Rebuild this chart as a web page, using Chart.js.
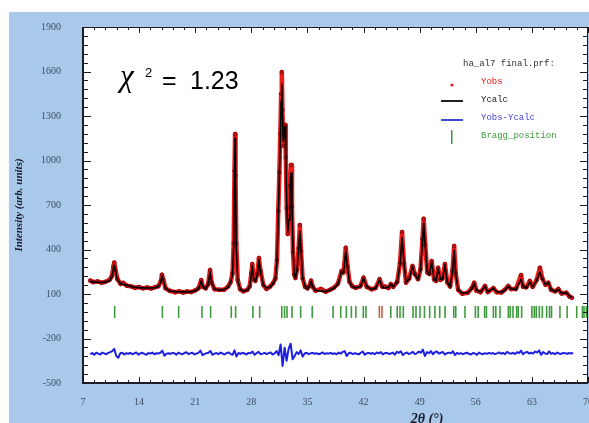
<!DOCTYPE html>
<html>
<head>
<meta charset="utf-8">
<script src="https://cdn.jsdelivr.net/npm/chart.js@4.4.1/dist/chart.umd.min.js"></script>
<style>
html, body { margin: 0; padding: 0; background: #fff; }
canvas { display: block; }
</style>
</head>
<body>
<canvas id="profileChart" width="589" height="423"></canvas>
<script>
// profile (2theta in degrees, counts)
const twoTheta = [
  7.9, 8.3, 8.8, 9.3, 9.8, 10.3, 10.6, 10.8, 10.9, 11.05, 11.3, 11.7, 12.0, 12.5, 13.0, 13.5, 14.0, 14.5, 15.0, 15.5,
  16.0, 16.4, 16.7, 16.85, 17.0, 17.3, 17.8, 18.5, 19.0, 19.5, 20.0, 20.5, 21.0, 21.4, 21.75, 21.95, 22.3, 22.6, 22.85, 23.05,
  23.4, 24.0, 24.6, 25.1, 25.4, 25.65, 25.8, 25.9, 25.97, 26.03, 26.12, 26.3, 26.6, 27.0, 27.5, 27.8, 28.0, 28.12, 28.3, 28.5,
  28.75, 28.95, 29.15, 29.5, 29.9, 30.3, 30.7, 31.0, 31.2, 31.36, 31.5, 31.62, 31.72, 31.8, 31.88, 31.98, 32.08, 32.2, 32.3, 32.42,
  32.55, 32.7, 32.82, 32.95, 33.07, 33.2, 33.35, 33.5, 33.7, 33.9, 34.05, 34.2, 34.4, 34.7, 35.0, 35.25, 35.45, 35.7, 36.0, 36.7,
  37.3, 37.8, 38.3, 38.8, 39.25, 39.5, 39.78, 40.0, 40.25, 40.6, 41.0, 41.6, 42.0, 42.4, 43.0, 43.5, 44.0, 44.35, 44.7, 45.1,
  45.4, 45.7, 46.2, 46.55, 46.8, 47.05, 47.3, 47.7, 48.1, 48.4, 48.8, 49.1, 49.35, 49.5, 49.7, 49.95, 50.2, 50.5, 50.8, 51.05,
  51.3, 51.6, 51.85, 52.15, 52.45, 52.8, 53.1, 53.3, 53.5, 53.8, 54.3, 55.0, 55.5, 55.8, 56.1, 56.6, 57.15, 57.5, 58.2, 58.6,
  59.2, 59.6, 60.05, 60.4, 61.0, 61.65, 61.9, 62.3, 62.75, 63.1, 63.6, 64.0, 64.3, 64.7, 65.05, 65.4, 65.9, 66.3, 66.7, 67.3,
  67.7, 68.0
];
const yCalc = [
  185, 182, 180, 178, 180, 190, 215, 270, 292, 255, 195, 170, 165, 158, 150, 146, 143, 141, 140, 140,
  142, 150, 180, 222, 195, 140, 120, 116, 115, 114, 114, 116, 120, 135, 188, 150, 135, 160, 252, 175,
  135, 125, 130, 145, 175, 230, 420, 880, 1150, 880, 420, 190, 135, 120, 125, 150, 230, 290, 200, 185,
  230, 330, 250, 160, 140, 145, 170, 200, 320, 620, 900, 1150, 1400, 1515, 1320, 1130, 1180, 1230, 1000, 700,
  520, 600, 800, 915, 700, 400, 240, 210, 260, 400, 525, 400, 210, 150, 135, 150, 185, 145, 125, 118,
  118, 125, 140, 165, 250, 240, 390, 280, 180, 150, 140, 150, 205, 150, 130, 140, 195, 145, 140, 145,
  165, 150, 180, 300, 480, 300, 180, 200, 285, 230, 200, 260, 450, 580, 420, 250, 230, 315, 200, 190,
  270, 200, 200, 295, 180, 150, 250, 395, 230, 130, 105, 110, 135, 170, 125, 115, 150, 115, 138, 115,
  112, 125, 150, 135, 130, 200, 150, 140, 180, 150, 190, 250, 200, 165, 175, 130, 115, 130, 105, 108,
  85, 78
];
const yObs = [
  190, 180, 185, 176, 182, 195, 220, 285, 312, 262, 200, 168, 175, 155, 152, 142, 147, 138, 144, 137,
  146, 152, 185, 230, 200, 138, 122, 112, 118, 110, 117, 113, 124, 138, 194, 148, 138, 165, 262, 178,
  132, 128, 128, 150, 178, 240, 440, 930, 1178, 900, 440, 195, 132, 118, 128, 152, 240, 302, 198, 188,
  235, 343, 255, 160, 134, 148, 172, 205, 330, 660, 920, 1180, 1450, 1596, 1340, 1100, 1230, 1240, 1020, 680,
  504, 620, 830, 970, 690, 380, 230, 208, 265, 410, 565, 390, 205, 148, 138, 155, 190, 145, 122, 134,
  115, 128, 142, 170, 255, 245, 412, 285, 182, 152, 142, 152, 210, 148, 132, 140, 200, 148, 150, 140,
  167, 148, 182, 310, 518, 305, 176, 205, 289, 235, 200, 265, 470, 607, 430, 245, 235, 322, 198, 188,
  277, 195, 205, 302, 178, 150, 260, 424, 240, 128, 102, 108, 140, 176, 122, 112, 154, 113, 140, 112,
  110, 128, 154, 133, 133, 228, 148, 145, 188, 148, 195, 277, 205, 162, 176, 128, 118, 134, 103, 109,
  82, 75
];

// Yobs - Ycalc (offset to -300), one value every 0.25 deg from 7.9
const diffStart = 7.9;
const diffStep = 0.25;
const yDiff = [
  -305, -298, -310, -296, -302, -308, -295, -300, -306, -297, -292, -285, -270, -318, -330, -300, -296, -308, -299, -303,
  -297, -306, -300, -294, -309, -301, -296, -304, -310, -298, -302, -295, -307, -299, -301, -296, -282, -316, -303, -300,
  -304, -297, -300, -309, -295, -302, -306, -298, -293, -305, -300, -296, -308, -301, -297, -282, -312, -305, -299, -296,
  -284, -310, -302, -298, -306, -295, -301, -308, -299, -294, -303, -310, -280, -322, -298, -304, -296, -301, -307, -297,
  -300, -288, -310, -299, -290, -306, -302, -297, -305, -299, -294, -308, -300, -285, -312, -240, -385, -262, -350, -270,
  -235, -340, -318, -292, -305, -280, -322, -301, -296, -305, -300, -297, -303, -299, -306, -301, -294, -305, -299, -302,
  -297, -304, -300, -306, -295, -302, -290, -285, -318, -300, -296, -305, -299, -303, -307, -296, -288, -310, -300, -297,
  -303, -298, -306, -294, -300, -292, -307, -299, -296, -304, -301, -295, -309, -290, -297, -286, -312, -300, -294, -305,
  -298, -290, -305, -300, -288, -296, -275, -318, -292, -299, -285, -306, -293, -288, -302, -296, -291, -308, -299, -295,
  -300, -286, -312, -297, -304, -299, -306, -300, -296, -303, -308, -298, -301, -310, -295, -302, -306, -299, -304, -297,
  -302, -298, -305, -300, -294, -303, -297, -306, -290, -299, -302, -296, -305, -293, -298, -282, -306, -295, -290, -301,
  -296, -302, -288, -294, -280, -310, -292, -300, -305, -287, -303, -298, -306, -295, -301, -304, -297, -300, -303, -298,
  -301, -298
];

// Bragg reflection positions (2theta); the two red ones belong to the second phase
const braggPos = [
  10.95, 16.9, 18.93, 21.84, 22.92, 25.5, 26.04, 28.2, 29.04, 31.8, 32.15, 32.45, 33.07, 34.15, 35.6,
  38.2, 39.15, 39.85, 40.48, 41.03, 41.97, 42.3, 45.4, 46.2, 46.55, 46.96, 48.17, 48.54, 49.04, 49.6,
  50.25, 50.9, 51.5, 52.16, 53.25, 53.5, 54.65, 55.95, 56.3, 57.1, 57.33, 58.2, 58.5, 59.02, 60.06,
  60.3, 60.64, 61.1, 61.3, 61.72, 63.0, 63.3, 63.55, 63.93, 64.3, 64.84, 65.2, 65.45, 66.5, 67.4,
  68.59, 69.3, 69.5, 69.8
];
const braggPos2 = [43.97, 44.3];
const braggLevel = -21;

const xTicks = [7, 14, 21, 28, 35, 42, 49, 56, 63, 70];
const yTicks = [-500, -200, 100, 400, 700, 1000, 1300, 1600, 1900];

const calcPts = twoTheta.map((t, i) => ({ x: t, y: yCalc[i] }));
const obsPts = twoTheta.map((t, i) => ({ x: t, y: yObs[i] }));
const diffPts = yDiff.map((v, i) => ({ x: diffStart + i * diffStep, y: v }));
const braggPts = braggPos.map(t => ({ x: t, y: braggLevel }));
const bragg2Pts = braggPos2.map(t => ({ x: t, y: braggLevel }));

const tickColor = '#3d4b66';
const serif = '"Liberation Serif", "DejaVu Serif", serif';

// light blue page, white plot area, inward tick marks and frame
const framePlugin = {
  id: 'frame',
  beforeDraw(chart) {
    const { ctx, chartArea: a } = chart;
    ctx.save();
    ctx.fillStyle = '#ffffff';
    ctx.fillRect(0, 0, chart.width, chart.height);
    ctx.fillStyle = '#a9c9ea';
    ctx.fillRect(9, 12, chart.width - 9, chart.height - 12);
    ctx.fillStyle = '#ffffff';
    ctx.fillRect(a.left, a.top, a.right - a.left, a.bottom - a.top);
    ctx.restore();
  },
  afterDraw(chart) {
    const { ctx, chartArea: a, scales: { x, y } } = chart;
    ctx.save();
    ctx.strokeStyle = '#1c1c28';
    ctx.lineWidth = 1;
    ctx.beginPath();
    for (let v = -500; v <= 1900; v += 60) {
      const py = Math.round(y.getPixelForValue(v)) + 0.5;
      const len = (v + 500) % 300 === 0 ? 8 : 5;
      ctx.moveTo(a.left, py); ctx.lineTo(a.left + len, py);
      ctx.moveTo(a.right, py); ctx.lineTo(a.right - len, py);
    }
    for (let k = 0; k <= 45; k++) {
      const v = 7 + k * 1.4;
      const px = Math.round(x.getPixelForValue(v)) + 0.5;
      const len = k % 5 === 0 ? 6 : 3;
      ctx.moveTo(px, a.top); ctx.lineTo(px, a.top + len);
      ctx.moveTo(px, a.bottom); ctx.lineTo(px, a.bottom - len);
    }
    ctx.stroke();
    ctx.strokeRect(a.left + 0.5, a.top + 0.5, a.right - a.left - 1, a.bottom - a.top - 1);
    ctx.lineWidth = 2;
    ctx.beginPath();
    ctx.moveTo(a.left, a.top); ctx.lineTo(a.left, a.bottom); ctx.lineTo(a.right, a.bottom);
    ctx.stroke();

    // chi-square note
    ctx.fillStyle = '#000';
    ctx.textBaseline = 'alphabetic';
    ctx.font = 'italic 31px ' + serif;
    ctx.fillText('\u03c7', 120, 86);
    ctx.font = '13px "Liberation Sans", Arial, sans-serif';
    ctx.fillText('2', 145, 77);
    ctx.font = '25px "Liberation Sans", Arial, sans-serif';
    ctx.fillText('=', 162, 89);
    ctx.fillText('1.23', 190, 89);

    // legend block
    ctx.font = '9px "Liberation Mono", "DejaVu Sans Mono", monospace';
    ctx.textBaseline = 'middle';
    ctx.fillStyle = '#333';
    ctx.fillText('ha_al7 final.prf:', 463, 64);
    ctx.fillStyle = '#e02020';
    ctx.beginPath(); ctx.arc(452, 85, 1.6, 0, Math.PI * 2); ctx.fill();
    ctx.fillText('Yobs', 481, 82);
    ctx.fillStyle = '#222';
    ctx.fillRect(441, 100, 22, 2);
    ctx.fillText('Ycalc', 481, 100);
    ctx.fillStyle = '#4545d8';
    ctx.fillRect(441, 119, 22, 2);
    ctx.fillText('Yobs-Ycalc', 481, 118);
    ctx.fillStyle = '#3a9a3a';
    ctx.fillRect(451, 130, 1.5, 14);
    ctx.fillText('Bragg_position', 481, 136);

    // x axis title
    ctx.fillStyle = '#1a1a2e';
    ctx.font = 'bold italic 14px ' + serif;
    ctx.textAlign = 'center';
    ctx.textBaseline = 'alphabetic';
    ctx.fillText('2\u03b8 (\u00b0)', 427, 423);
    ctx.restore();
  }
};

new Chart(document.getElementById('profileChart'), {
  type: 'scatter',
  data: {
    datasets: [
      {
        label: 'Ycalc',
        data: calcPts,
        showLine: true,
        borderColor: '#000000',
        borderWidth: 1.6,
        borderJoinStyle: 'round',
        pointRadius: 0,
        order: 1
      },
      {
        label: 'Yobs',
        data: obsPts,
        showLine: true,
        borderColor: '#ee1a1a',
        borderWidth: 4.5,
        borderJoinStyle: 'round',
        borderCapStyle: 'round',
        pointRadius: 1.8,
        pointBackgroundColor: '#d01010',
        pointBorderColor: '#7a0a0a',
        pointBorderWidth: 0.8,
        order: 2
      },
      {
        label: 'Yobs-Ycalc',
        data: diffPts,
        showLine: true,
        borderColor: '#1f1fe0',
        borderWidth: 2,
        borderJoinStyle: 'round',
        pointRadius: 0,
        order: 3
      },
      {
        label: 'Bragg_position',
        data: braggPts,
        pointStyle: 'line',
        rotation: 90,
        pointRadius: 6,
        borderColor: '#3f9a3f',
        pointBorderWidth: 1.6,
        order: 4
      },
      {
        label: 'Bragg_position 2',
        data: bragg2Pts,
        pointStyle: 'line',
        rotation: 90,
        pointRadius: 6,
        borderColor: '#c8603a',
        pointBorderWidth: 1.6,
        order: 5
      }
    ]
  },
  options: {
    responsive: false,
    animation: false,
    layout: { autoPadding: false, padding: { left: 9, top: 27, right: 1, bottom: 0 } },
    plugins: { legend: { display: false }, tooltip: { enabled: false } },
    scales: {
      x: {
        type: 'linear',
        min: 7,
        max: 70,
        afterBuildTicks: s => { s.ticks = xTicks.map(v => ({ value: v })); },
        afterFit: s => { s.height = 40; s.paddingLeft = 0; s.paddingRight = 0; },
        grid: { display: false, drawTicks: false },
        border: { display: false },
        ticks: { color: tickColor, font: { family: serif, size: 10 }, padding: 13, maxRotation: 0 }
      },
      y: {
        type: 'linear',
        min: -500,
        max: 1900,
        afterBuildTicks: s => { s.ticks = yTicks.map(v => ({ value: v })); },
        afterFit: s => { s.width = 74; s.paddingTop = 0; s.paddingBottom = 0; },
        grid: { display: false, drawTicks: false },
        border: { display: false },
        ticks: { color: tickColor, font: { family: serif, size: 10 }, padding: 22, callback: v => String(v) },
        title: {
          display: true,
          text: 'Intensity (arb. units)',
          color: '#1a1a2e',
          font: { family: serif, size: 11, style: 'italic', weight: 'bold' },
          padding: { top: 4, bottom: 0 }
        }
      }
    }
  },
  plugins: [framePlugin]
});
</script>
</body>
</html>
